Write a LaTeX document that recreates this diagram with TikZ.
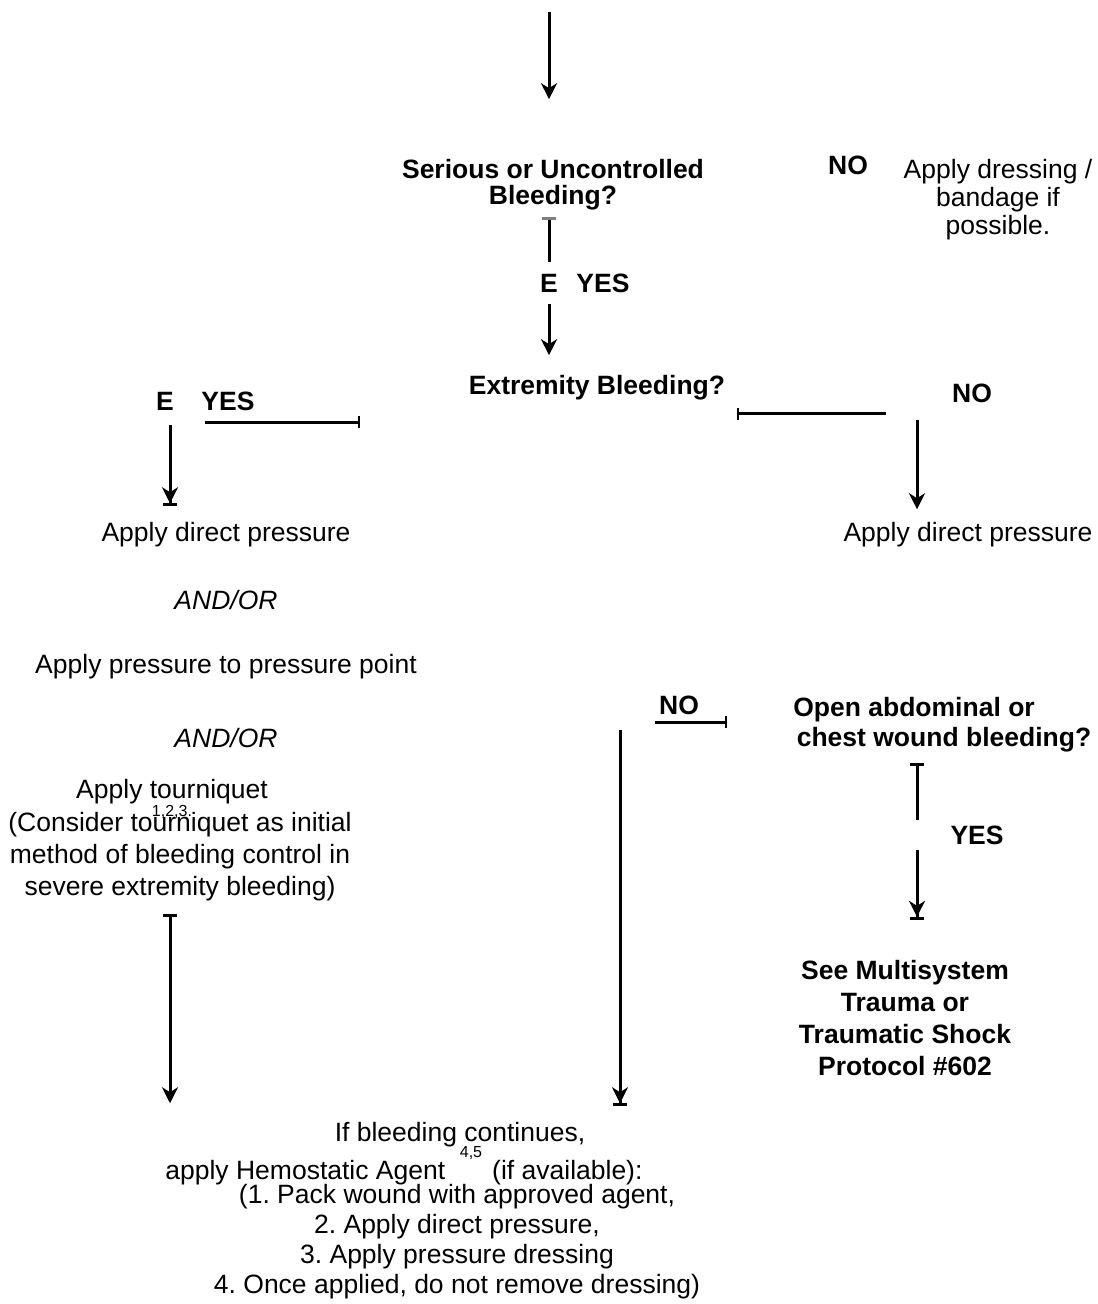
\documentclass[tikz,border=0pt]{standalone}
\usepackage{fontspec}
\setmainfont{Liberation Sans}
\usetikzlibrary{arrows.meta}
\frenchspacing

\tikzset{
  txt/.style={inner sep=0pt, align=center, font=\fontsize{13.25pt}{#1}\selectfont},
  txt/.default=15pt,
  bld/.style={inner sep=0pt, align=center, font=\fontsize{13.25pt}{#1}\selectfont\bfseries},
  bld/.default=15pt,
  ita/.style={inner sep=0pt, font=\fontsize{13.25pt}{15pt}\selectfont\itshape},
  sup/.style={inner sep=0pt, font=\fontsize{8pt}{9pt}\selectfont},
  lin/.style={line width=1.5pt},
  arr/.style={line width=1.5pt, -{Stealth[length=8pt,width=8pt,inset=2.5pt]}},
  arrbar/.style={line width=1.5pt, -{Stealth[length=8pt,width=8pt,inset=2.5pt]Bar[width=7pt,sep=0pt]}},
  tick/.style={{Bar[width=6pt,line width=0.8pt]}-}
}

\begin{document}
\begin{tikzpicture}[x=0.5pt, y=-0.5pt]
\useasboundingbox (0,0) rectangle (1097,1304);

% questions
\node[bld=13pt] (q1) at (553,185) {Serious or Uncontrolled\\Bleeding?};
\node[bld] (q2) at (597,388) {Extremity Bleeding?};
\node[bld=15pt] (q3) at (929,725) {\hspace*{-15pt}Open abdominal or\\\hspace*{15pt}chest wound bleeding?};

% yes / no labels
\node[bld] (n1) at (848,165) {NO};
\node[bld, minimum height=21pt] (e1) at (549,283) {E};
\node[bld] (y1) at (603,283) {YES};
\node[bld] (e2) at (165,401) {E};
\node[bld] (y2) at (228,401) {YES};
\node[bld] (n2) at (972,393) {NO};
\node[bld] (n3) at (679,705) {NO};
\node[minimum height=15pt, inner sep=0pt] (e3) at (917,835) {};
\node[bld] (y3) at (977,835) {YES};

% actions
\node[txt=14pt] (a1) at (998,200) {Apply dressing /\\bandage if\\possible.};
\node[txt] (p1) at (226,535) {Apply direct pressure};
\node[txt] (p2) at (968,535) {Apply direct pressure};
\node[ita] (o1) at (226,600) {AND/OR};
\node[txt] (pp) at (226,667) {Apply pressure to pressure point};
\node[ita] (o2) at (226,738) {AND/OR};
\node[txt] (t1) at (172,792) {Apply tourniquet};
\node[sup] (s1) at (172,812) {1,2,3.};
\node[txt=16pt] (t2) at (180,857) {(Consider tourniquet as initial\\method of bleeding control in\\severe extremity bleeding)};
\node[bld=16pt] (m1) at (905,1018) {See Multisystem\\Trauma or\\Traumatic Shock\\Protocol \#602};
\node[txt] (h1) at (460,1135) {If bleeding continues,};
\node[txt, anchor=west] (h2) at (165,1173) {apply Hemostatic Agent\hspace{23.5pt}(if available):};
\node[sup] (s2) at (471,1153) {4,5};
\node[txt] (h3) at (457,1242) {(1. Pack wound with approved agent,\\2. Apply direct pressure,\\3. Apply pressure dressing\\4. Once applied, do not remove dressing)};

% corners and free ends
\coordinate (c0) at (549,12);
\coordinate (b2) at (360,422);
\coordinate (k2) at (170,422);
\coordinate (b3) at (737,414);
\coordinate (k3) at (917,414);
\coordinate (b4) at (727,722);
\coordinate (k4) at (620,722);

% connectors
\draw[arr, shorten >=30pt] (c0) -- (c0 |- q1.north);
\draw[lin, {Bar[width=7pt,color=gray]}-, shorten <=3pt] (q1.south -| e1) -- (e1);
\draw[arr, shorten >=10pt] (e1) -- (e1 |- q2.north);
\draw[lin, tick, shorten >=17.5pt] (b2) -- (k2);
\draw[arrbar, shorten <=1.5pt, shorten >=8pt] (k2) -- (k2 |- p1.north);
\draw[lin, tick, shorten >=15.5pt] (b3) -- (k3);
\draw[arr, shorten <=3pt, shorten >=6.5pt] (k3) -- (k3 |- p2.north);
\draw[lin, {Bar[width=7pt]}-{Stealth[length=8pt,width=8pt,inset=2.5pt]}, shorten <=6pt, shorten >=9.5pt] (t2.south -| k2) -- (k2 |- h1.north);
\draw[lin, tick, shorten >=17.5pt] (b4) -- (k4);
\draw[arrbar, shorten <=4pt, shorten >=8pt] (k4) -- (k4 |- h1.north);
\draw[lin, {Bar[width=7pt]}-, shorten <=5pt] (q3.south -| e3) -- (e3);
\draw[arrbar, shorten >=20pt] (e3) -- (e3 |- m1.north);
\end{tikzpicture}
\end{document}
